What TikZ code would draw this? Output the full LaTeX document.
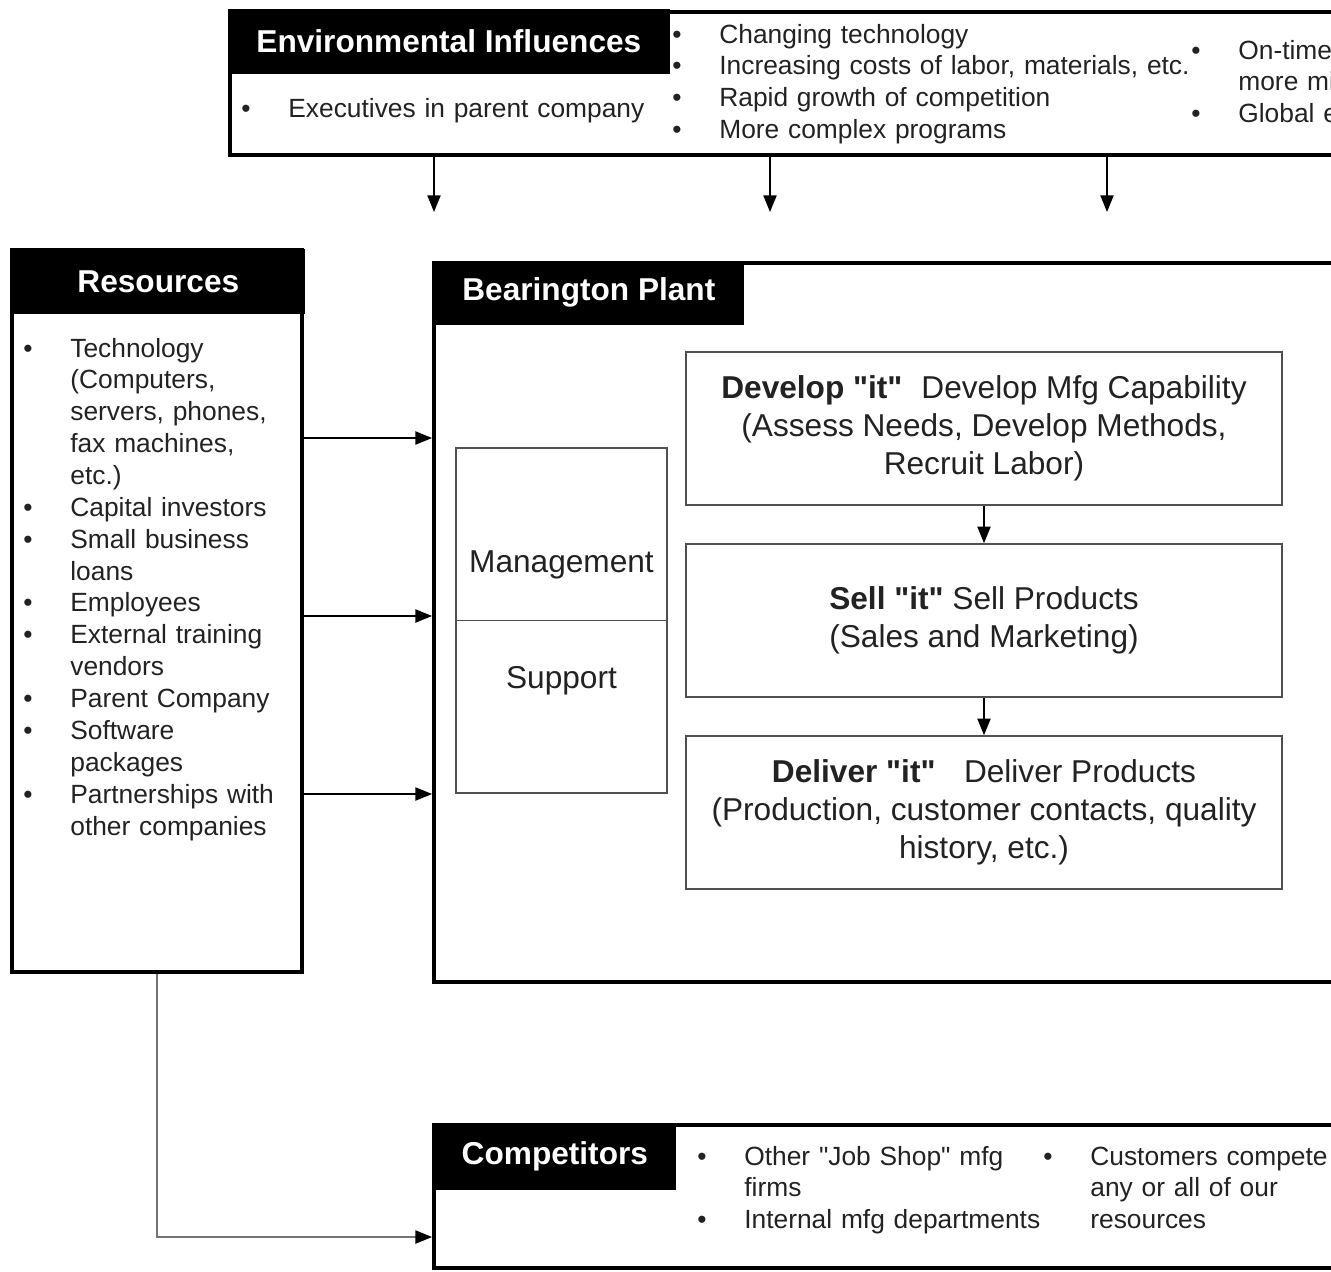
\documentclass[tikz,border=0pt]{standalone}
\usepackage{fontspec}
\setmainfont{Liberation Sans}
\newfontfamily\qfam{Liberation Sans}
\usepackage{tikz}
\usetikzlibrary{arrows.meta,positioning,fit}
\definecolor{inkgray}{HTML}{222222}
\definecolor{edgegray}{HTML}{505050}
\newcommand{\bl}{\leavevmode\llap{\textbullet\hspace{21.5pt}}}
\newcommand{\dq}{{\qfam\symbol{34}}}

\begin{document}
\begin{tikzpicture}[x=0.02cm, y=-0.02cm,
    outerbox/.style={rectangle, draw=black, line width=2.2pt, inner sep=0pt},
    tabhead/.style={rectangle, draw=black, fill=black, line width=1pt, inner sep=0pt, anchor=north west, text=white, font=\fontsize{18}{21.8}\selectfont\bfseries},
    stage/.style={rectangle, draw=edgegray, line width=0.9pt, fill=white, minimum width=11.92cm, minimum height=3.06cm, align=center, text=inkgray, font=\fontsize{18}{21.8}\selectfont},
    lst/.style={anchor=base west, inner sep=0pt, align=left, text=inkgray, font=\fontsize{15}{18.14}\selectfont},
    lbl/.style={anchor=base, inner sep=0pt, text=inkgray, font=\fontsize{18}{21.8}\selectfont},
    arr/.style={-{Triangle[length=9.5pt, width=7.5pt]}, line width=0.9pt, black},
    feed/.style={-{Triangle[length=9.5pt, width=7.5pt, color=black]}, line width=0.9pt, black!55}
]
\useasboundingbox (0,0) rectangle (1331,1271);
\clip (0,0) rectangle (1331,1271);

% Environmental influences
\node[outerbox, fit={(230,12) (1400,155)}] (env) {};
\node[tabhead, minimum width=8.8cm, minimum height=1.26cm] (envtab) at (228,9) {Environmental Influences};
\node[lst, text width=8cm] (envexec) at (288,117) {\bl Executives in parent company};
\node[lst, text width=10cm] (envmid) at (719,43) {\bl Changing technology\\ \bl Increasing costs of labor, materials, etc.\\ \bl Rapid growth of competition\\ \bl More complex programs};
\node[lst, text width=3cm] (envright) at (1238,59) {\bl On-time\\more mi\\ \bl Global e};

% Resources
\node[outerbox, fit={(12,250) (302,972)}] (res) {};
\node[tabhead, minimum width=5.82cm, minimum height=1.26cm] (restab) at (12,249) {Resources};
\node[lst, text width=4.6cm] (reslist) at (70,357) {\bl Technology\\(Computers,\\servers, phones,\\fax machines,\\etc.)\\ \bl Capital investors\\ \bl Small business\\loans\\ \bl Employees\\ \bl External training\\vendors\\ \bl Parent Company\\ \bl Software\\packages\\ \bl Partnerships with\\other companies};

% Plant
\node[outerbox, fit={(434,263) (1400,982)}] (plant) {};
\node[tabhead, minimum width=6.16cm, minimum height=1.24cm] (planttab) at (434,261) {Bearington Plant};

\node[stage, minimum width=4.22cm, minimum height=6.9cm] (mgmt) at (561.5,620.5) {};
\draw[edgegray, line width=0.9pt] (mgmt.west) -- (mgmt.east);
\node[lbl] (mgmtlbl) at (561.5,572) {Management};
\node[lbl] (supplbl) at (561.5,688) {Support};

\node[stage] (dev) at (984,428.5) {\textbf{Develop \dq it\dq}\hspace{0.6em}Develop Mfg Capability\\(Assess Needs, Develop Methods,\\Recruit Labor)};
\node[stage] (sell) at (984,620.5) {\textbf{Sell \dq it\dq} Sell Products\\(Sales and Marketing)};
\node[stage] (del) at (984,812.5) {\textbf{Deliver \dq it\dq}\hspace{0.9em}Deliver Products\\(Production, customer contacts, quality\\history, etc.)};

% Competitors
\node[outerbox, fit={(434,1125) (1400,1268)}] (comp) {};
\node[tabhead, minimum width=4.8cm, minimum height=1.3cm] (comptab) at (434,1123) {Competitors};
\node[lst, text width=6.5cm] (complist) at (744,1165) {\bl Other \dq Job Shop\dq{} mfg\\firms\\ \bl Internal mfg departments};
\node[lst, text width=5cm] (custlist) at (1090,1165) {\bl Customers compete\\any or all of our\\resources};

% Flows
\coordinate (e1) at (434,212);
\coordinate (e2) at (770,212);
\coordinate (e3) at (1107,212);
\draw[arr] (env.south -| e1) -- (e1);
\draw[arr] (env.south -| e2) -- (e2);
\draw[arr] (env.south -| e3) -- (e3);

\coordinate (r1) at (0,438);
\coordinate (r2) at (0,616);
\coordinate (r3) at (0,794);
\draw[arr] (res.east |- r1) -- (plant.west |- r1);
\draw[arr] (res.east |- r2) -- (plant.west |- r2);
\draw[arr] (res.east |- r3) -- (plant.west |- r3);

\draw[arr] (dev) -- (sell);
\draw[arr] (sell) -- (del);

\coordinate (c1) at (0,1237);
\draw[feed] (res.south) |- (comp.west |- c1);

\end{tikzpicture}
\end{document}
